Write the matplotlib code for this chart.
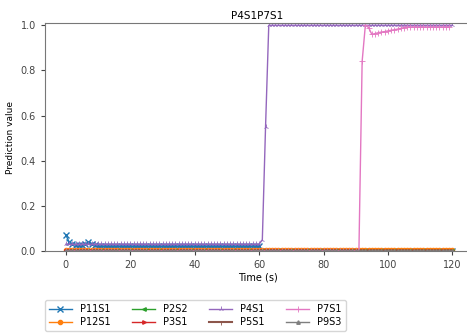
import numpy as np
import matplotlib as mpl
mpl.use('Agg')
import matplotlib.pyplot as plt

# time axis, one reading per second
t = np.arange(0, 121)

# values
p11s1_head = [0.07, 0.04, 0.03, 0.028, 0.026, 0.025, 0.03, 0.04, 0.03, 0.025]
p11s1_tail = 0.02
p4s1_low = 0.03
p4s1_rise = [0.05, 0.55, 1.0]          # t = 61, 62, 63
p7s1_rise = [0.0, 0.84, 1.0, 0.99, 0.96, 0.963, 0.967, 0.97, 0.972, 0.975,
             0.978, 0.98, 0.983, 0.986, 0.99]   # t = 91 .. 105
p7s1_end = 0.992
p12s1_level = 0.006
p5s1_level = 0.002

p11s1 = np.array(p11s1_head + [p11s1_tail] * (51) + [0.0] * (121 - 61))
p4s1 = np.array([p4s1_low] * 61 + p4s1_rise + [1.0] * (121 - 64))
p7s1 = np.array([0.0] * 91 + p7s1_rise + [p7s1_end] * (120 - 106))
t7 = t[:len(p7s1)]
p12s1 = np.full(121, p12s1_level)
p2s2 = np.full(121, 0.001)
p3s1 = np.full(121, 0.001)
p5s1 = np.full(121, p5s1_level)
p9s3 = np.full(121, 0.001)

fig = plt.figure(figsize=(4.67, 3.36), dpi=100)
ax = fig.add_axes([45/467, 1 - 251/336, 425/467, 228/336])

ax.plot(t, p11s1, marker='x', ms=4, mew=1, color='tab:blue', lw=1, label='P11S1')
ax.plot(t, p12s1, marker='o', ms=3, color='tab:orange', lw=1, label='P12S1')
ax.plot(t, p2s2, marker='<', ms=2.5, color='tab:green', lw=1, label='P2S2')
ax.plot(t, p3s1, marker='>', ms=2.5, color='tab:red', lw=1, label='P3S1')
ax.plot(t, p4s1, marker='2', ms=4, mew=0.6, color='tab:purple', lw=1, label='P4S1')
ax.plot(t, p5s1, marker='1', ms=4, mew=0.6, color='tab:brown', lw=1.5, label='P5S1')
ax.plot(t7, p7s1, marker='+', ms=4, mew=0.6, color='tab:pink', lw=1, label='P7S1')
ax.plot(t, p9s3, marker='^', ms=2.5, color='tab:gray', lw=1, label='P9S3')

ax.set_xlim(-6.5, 125.5)
ax.set_ylim(0, 1.01)
ax.set_xticks([0, 20, 40, 60, 80, 100, 120])
ax.set_yticks([0.0, 0.2, 0.4, 0.6, 0.8, 1.0])
ax.tick_params(labelsize=7, length=3, colors='#444444')
for s in ax.spines.values():
    s.set_color('#777777')
ax.set_title('P4S1P7S1', fontsize=7.5, pad=3)
ax.set_xlabel('Time (s)', fontsize=7, labelpad=2)
ax.set_ylabel('Prediction value', fontsize=6.5)

fig.legend(loc='lower left', bbox_to_anchor=(40/467, 0.0), ncol=4, fontsize=7,
           frameon=True, handlelength=2.4, columnspacing=2.2, borderpad=0.4,
           labelspacing=0.3, markerscale=1.0)

fig.savefig('out.png', dpi=100)
